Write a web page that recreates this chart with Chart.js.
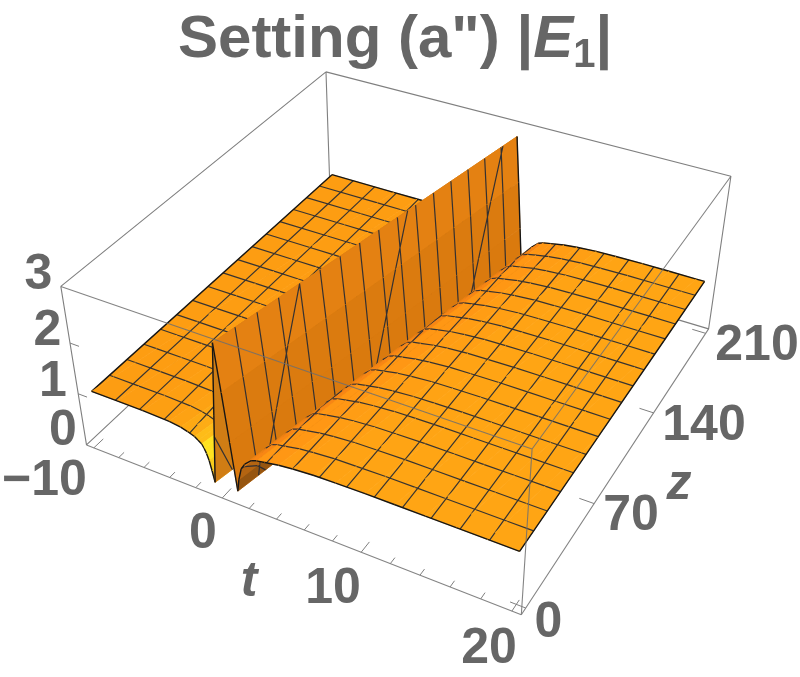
<!DOCTYPE html>
<html>
<head>
<meta charset="utf-8">
<style>
  html, body { margin: 0; padding: 0; background: #fff; }
  canvas { display: block; }
</style>
<script src="https://cdn.jsdelivr.net/npm/chart.js@4/dist/chart.umd.min.js"></script>
</head>
<body>
<canvas id="chart" width="800" height="677"></canvas>
<script>
// |E1| across the pulse, u = t - DRIFT * z
const uValues = [-16, -10, -8, -6, -4, -3.15, -2.65, -2.15, -1.9, -1.65, -1.5, -1.35, -1.2, -1.05, -0.9, -0.5, -0.1, 0.2, 0.5, 0.8, 0.95, 1.2, 1.5, 2, 2.4, 3, 4, 5, 6.5, 8, 10, 12, 14, 16, 18, 20];
const hValues = [1, 1, 1, 1, 0.98, 0.95, 0.91, 0.86, 0.81, 0.76, 0.69, 0.6, 0.47, 0.27, 0.05, 1.45, 2.85, 1.95, 1, 0.05, 0.3, 0.55, 0.68, 0.8, 0.84, 0.87, 0.92, 0.95, 0.98, 0.99, 1, 1, 1, 1, 1, 1];

const DRIFT = 0.0257;

// mesh lines
const tMesh = [-8.125, -6.25, -4.375, -2.5, -0.625, 1.25, 3.125, 5, 6.875, 8.75, 10.625, 12.5, 14.375, 16.25, 18.125];
const zMesh = [13.125, 26.25, 39.375, 52.5, 65.625, 78.75, 91.875, 105, 118.125, 131.25, 144.375, 157.5, 170.625, 183.75, 196.875];

// axes
const tTicks = [-10, -8, -6, -4, -2, 0, 2, 4, 6, 8, 10, 12, 14, 16, 18, 20];
const zTicks = [0, 70, 140, 210];
const hTicks = [1, 2];
const hLabels = ['0', '1', '2', '3'];
const tLabels = ['\u221210', '0', '10', '20'];
const zLabels = ['0', '70', '140', '210'];

const T_MIN = -10, T_MAX = 20, Z_MIN = 0, Z_MAX = 210;
const T0 = -10.6, T1 = 20.6, Z0 = -4.2, Z1 = 214.2, H0 = -0.06, H1 = 3.06;

const GREY = '#666666';
const BOX = '#7f7f7f';
const MESH = 'rgba(38,42,52,0.92)';
const EDGE = '#161616';

// camera is fitted to the box corners and surface corners seen in the picture
const calib = [
  [T0, Z0, H0, 85, 442],
  [T0, Z0, H1, 61, 285],
  [T1, Z0, H0, 522, 613],
  [T1, Z0, H1, 532, 448],
  [T1, Z1, H0, 710, 325],
  [T1, Z1, H1, 730, 176],
  [T0, Z1, H1, 327, 70],
  [-10, 0, 1, 93, 395],
  [20, 0, 1, 519, 555],
  [20, 210, 1, 704, 285],
  [-10, 210, 1, 331, 177]
];

function norm(t, z, h) {
  return [(t - T0) / (T1 - T0), (z - Z0) / (Z1 - Z0), (h - H0) / (H1 - H0)];
}

function fitCamera() {
  const n = 11;
  const A = [];
  for (let i = 0; i < n; i++) A.push(new Array(n + 1).fill(0));
  const addRow = (row, rhs) => {
    for (let i = 0; i < n; i++) {
      for (let j = 0; j < n; j++) A[i][j] += row[i] * row[j];
      A[i][n] += row[i] * rhs;
    }
  };
  calib.forEach(c => {
    const [X, Y, Z] = norm(c[0], c[1], c[2]);
    const u = c[3], v = c[4];
    addRow([X, Y, Z, 1, 0, 0, 0, 0, -u * X, -u * Y, -u * Z], u);
    addRow([0, 0, 0, 0, X, Y, Z, 1, -v * X, -v * Y, -v * Z], v);
  });
  for (let i = 0; i < n; i++) {
    let best = i;
    for (let r = i + 1; r < n; r++) if (Math.abs(A[r][i]) > Math.abs(A[best][i])) best = r;
    [A[i], A[best]] = [A[best], A[i]];
    for (let r = 0; r < n; r++) {
      if (r === i) continue;
      const f = A[r][i] / A[i][i];
      for (let c = i; c <= n; c++) A[r][c] -= f * A[i][c];
    }
  }
  return A.map((row, i) => row[n] / row[i]);
}

const cam = fitCamera();

function project(t, z, h) {
  const [X, Y, Z] = norm(t, z, h);
  const w = cam[8] * X + cam[9] * Y + cam[10] * Z + 1;
  return {
    x: (cam[0] * X + cam[1] * Y + cam[2] * Z + cam[3]) / w,
    y: (cam[4] * X + cam[5] * Y + cam[6] * Z + cam[7]) / w
  };
}

function interp(xs, ys, x) {
  if (x <= xs[0]) return ys[0];
  for (let i = 0; i < xs.length - 1; i++) {
    if (x <= xs[i + 1]) return ys[i] + (ys[i + 1] - ys[i]) * (x - xs[i]) / (xs[i + 1] - xs[i]);
  }
  return ys[ys.length - 1];
}

function onSurface(t, z) {
  return project(t, z, interp(uValues, hValues, t - DRIFT * z));
}

function mix(a, b, f) {
  f = Math.max(0, Math.min(1, f));
  return a.map((v, i) => Math.round(v + (b[i] - v) * f));
}

function stripColor(i) {
  const u0 = uValues[i], u1 = uValues[i + 1];
  const um = (u0 + u1) / 2;
  const s = (hValues[i + 1] - hValues[i]) / (u1 - u0);
  let c;
  if (um < -0.9) {
    c = mix([253, 157, 18], [255, 226, 32], Math.abs(s) / 0.45);
    if (Math.abs(s) > 1.2) c = mix(c, [232, 160, 22], (Math.abs(s) - 1.2) / 0.4);
  } else if (um < -0.1) {
    c = [208, 125, 20];
  } else if (um < 0.8) {
    c = mix([232, 132, 20], [218, 122, 14], (um + 0.1) / 0.5);
  } else if (um < 2.4) {
    c = mix([255, 138, 20], [150, 85, 16], s / 1.4);
  } else {
    c = mix([255, 165, 20], [255, 148, 20], s / 0.06);
  }
  return 'rgb(' + c.join(',') + ')';
}

function lineSet(points, color, width) {
  return {
    data: points,
    showLine: true,
    pointRadius: 0,
    borderColor: color,
    borderWidth: width,
    borderJoinStyle: 'round',
    clip: false
  };
}

function segment(a, b) {
  return [project(a[0], a[1], a[2]), project(b[0], b[1], b[2])];
}

function joined(segments) {
  const pts = [];
  segments.forEach(s => {
    s.forEach(p => pts.push(p));
    pts.push({ x: null, y: null });
  });
  return pts;
}

// keep the part of a (t, z) polygon that lies inside the t range
function clipT(poly, limit, keepAbove) {
  const inside = p => keepAbove ? p[0] >= limit : p[0] <= limit;
  const out = [];
  poly.forEach((p, i) => {
    const q = poly[(i + 1) % poly.length];
    if (inside(p)) out.push(p);
    if (inside(p) !== inside(q)) {
      const f = (limit - p[0]) / (q[0] - p[0]);
      out.push([limit, p[1] + (q[1] - p[1]) * f]);
    }
  });
  return out;
}

function stripPolygon(u0, u1) {
  let poly = [[u0 + DRIFT * Z_MIN, Z_MIN], [u1 + DRIFT * Z_MIN, Z_MIN], [u1 + DRIFT * Z_MAX, Z_MAX], [u0 + DRIFT * Z_MAX, Z_MAX]];
  poly = clipT(poly, T_MIN, true);
  if (poly.length) poly = clipT(poly, T_MAX, false);
  return poly;
}

// piece of a constant z line inside one strip
function zLinePiece(u0, u1, z) {
  const t0 = Math.max(T_MIN, u0 + DRIFT * z);
  const t1 = Math.min(T_MAX, u1 + DRIFT * z);
  if (t1 <= t0) return null;
  return [onSurface(t0, z), onSurface(t1, z)];
}

// piece of a constant t line inside one strip
function tLinePiece(u0, u1, t) {
  const z0 = Math.max(Z_MIN, (t - u1) / DRIFT);
  const z1 = Math.min(Z_MAX, (t - u0) / DRIFT);
  if (z1 <= z0) return null;
  return [onSurface(t, z0), onSurface(t, z1)];
}

function buildDatasets() {
  const sets = [];

  // box edges behind the surface
  sets.push(lineSet(joined([
    segment([T0, Z0, H1], [T0, Z1, H1]),
    segment([T0, Z1, H1], [T1, Z1, H1]),
    segment([T0, Z1, H1], [T0, Z1, H0]),
    segment([T0, Z0, H0], [T0, Z1, H0]),
    segment([T0, Z1, H0], [T1, Z1, H0]),
    segment([T1, Z1, H0], [T1, Z1, H1]),
    segment([T0, Z0, H0], [T0, Z0, H1])
  ]), BOX, 1.1));

  // surface, back to front
  for (let i = 0; i < uValues.length - 1; i++) {
    const u0 = uValues[i], u1 = uValues[i + 1];
    const poly = stripPolygon(u0, u1);
    if (!poly.length) continue;
    const color = stripColor(i);
    const pts = poly.map(p => onSurface(p[0], p[1]));
    pts.push(pts[0]);
    const strip = lineSet(pts, color, 0.7);
    strip.polyFill = color;
    sets.push(strip);

    const mesh = zMesh.map(z => zLinePiece(u0, u1, z))
      .concat(tMesh.map(t => tLinePiece(u0, u1, t)))
      .filter(Boolean);
    sets.push(lineSet(joined(mesh), MESH, 1.2));

    const edges = [zLinePiece(u0, u1, Z_MIN), zLinePiece(u0, u1, Z_MAX), tLinePiece(u0, u1, T_MIN), tLinePiece(u0, u1, T_MAX)]
      .filter(Boolean);
    sets.push(lineSet(joined(edges), EDGE, 1.4));
  }

  // box edges in front of the surface
  sets.push(lineSet(joined([
    segment([T0, Z0, H1], [T1, Z0, H1]),
    segment([T1, Z0, H1], [T1, Z1, H1]),
    segment([T1, Z0, H1], [T1, Z0, H0]),
    segment([T0, Z0, H0], [T1, Z0, H0]),
    segment([T1, Z0, H0], [T1, Z1, H0])
  ]), 'rgba(110,110,110,0.85)', 1.1));

  // tick marks
  const ticks = [];
  tTicks.forEach(t => ticks.push(segment([t, Z0, H0], [t, Z0 + (t % 10 === 0 ? 7 : 4), H0])));
  zTicks.forEach(z => ticks.push(segment([T1, z, H0], [T1 - 1, z, H0])));
  hTicks.forEach(h => ticks.push(segment([T0, Z0, h], [T0 + 0.7, Z0, h])));
  sets.push(lineSet(joined(ticks), BOX, 1));

  // chart.js paints the first dataset last
  return sets.reverse();
}

const polygonFill = {
  id: 'polygonFill',
  beforeDatasetDraw(chart, args) {
    const ds = chart.data.datasets[args.index];
    if (!ds.polyFill) return;
    const ctx = chart.ctx;
    ctx.save();
    ctx.beginPath();
    args.meta.data.forEach((p, i) => {
      if (i === 0) ctx.moveTo(p.x, p.y);
      else ctx.lineTo(p.x, p.y);
    });
    ctx.closePath();
    ctx.fillStyle = ds.polyFill;
    ctx.fill();
    ctx.restore();
  }
};

const FONT = '"Liberation Sans", Arial, sans-serif';

const textLabels = {
  id: 'textLabels',
  afterDraw(chart) {
    const ctx = chart.ctx;
    ctx.save();
    ctx.fillStyle = GREY;
    ctx.textBaseline = 'alphabetic';

    // title has an italic E and a subscript, so it goes in pieces
    let x = 178;
    const baseY = 57;
    const parts = [
      ['Setting (a") |', 'bold 60px ' + FONT, 0],
      ['E', 'italic bold 60px ' + FONT, 0],
      ['1', 'bold 40px ' + FONT, 10],
      ['|', 'bold 60px ' + FONT, 0]
    ];
    ctx.textAlign = 'left';
    parts.forEach(p => {
      ctx.font = p[1];
      ctx.fillText(p[0], x, baseY + p[2]);
      x += ctx.measureText(p[0]).width;
    });

    ctx.font = 'bold 50px ' + FONT;
    ctx.textAlign = 'center';
    hLabels.forEach((s, i) => {
      ctx.fillText(s, [63, 53, 47.5, 38.5][i], [445, 396, 345, 289][i]);
    });
    tLabels.forEach((s, i) => {
      ctx.fillText(s, [44.5, 203, 333, 489][i], [495, 548, 603, 663][i]);
    });
    zLabels.forEach((s, i) => {
      ctx.fillText(s, [548.5, 631, 704, 757][i], [637, 530, 440, 360][i]);
    });
    ctx.font = 'italic bold 50px ' + FONT;
    ctx.fillText('t', 249, 596);
    ctx.fillText('z', 679, 499);
    ctx.restore();
  }
};

new Chart(document.getElementById('chart'), {
  type: 'scatter',
  data: { datasets: buildDatasets() },
  options: {
    responsive: false,
    animation: false,
    events: [],
    layout: { padding: 0 },
    plugins: { legend: { display: false }, tooltip: { enabled: false }, title: { display: false } },
    scales: {
      x: { type: 'linear', display: false, min: 0, max: 800 },
      y: { type: 'linear', display: false, min: 0, max: 677, reverse: true }
    }
  },
  plugins: [polygonFill, textLabels]
});
</script>
</body>
</html>
